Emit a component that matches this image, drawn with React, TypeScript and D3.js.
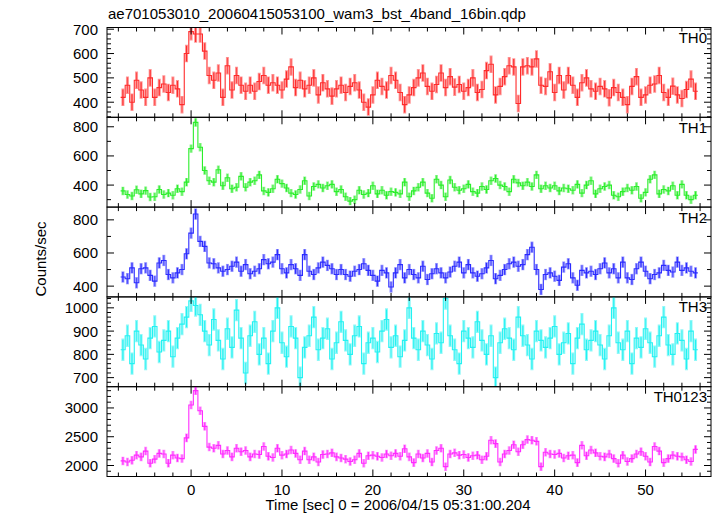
import React from "react";
import * as d3 from "d3";

const TITLE = "ae701053010_20060415053100_wam3_bst_4band_16bin.qdp";
const X_LABEL = "Time [sec] 0 = 2006/04/15 05:31:00.204";
const Y_LABEL = "Counts/sec";
const T_START = -7.5;
const BIN = 0.5;
const X_TICKS = [0, 10, 20, 30, 40, 50];

const TH0 = [
  420, 470, 400, 490, 450, 420, 500, 420, 460, 475,
  440, 470, 455, 390, 600, 690, 680, 680, 610, 510,
  490, 520, 420, 550, 450, 510, 470, 445, 470, 445,
  485, 510, 470, 480, 470, 450, 495, 545, 460, 490,
  455, 470, 500, 430, 480, 455, 425, 455, 470, 440,
  465, 480, 450, 400, 380, 430, 490, 465, 450, 510,
  490, 440, 390, 430,
  460, 500, 520, 465, 445, 473, 520, 460, 505, 462,
  473, 445, 460, 500, 440, 452, 530, 556, 430, 465,
  505, 550, 545, 395, 545, 550, 545, 578, 470, 465,
  525, 440, 510, 450, 510, 470, 420, 480, 500, 455,
  445, 465, 455, 418, 460, 440, 420, 390, 465, 505,
  420, 430, 470, 475, 510, 440, 420, 466, 430, 415,
  452, 495, 445,
];

const TH1 = [
  360, 335, 325, 368, 340, 362, 318, 320, 370, 335,
  345, 330, 375, 355, 420, 650, 830, 660, 500, 430,
  420, 505, 395, 450, 375, 385, 460, 385, 420, 430,
  470, 360, 350, 375, 440, 410, 380, 345, 335, 370,
  430, 325, 390, 405, 380, 395, 405, 355, 370, 320,
  290, 300, 365, 335, 345, 395, 340, 365, 330, 355,
  350, 340, 420, 320,
  360, 385, 420, 345, 310, 440, 400, 320, 435, 385,
  365, 375, 405, 355, 345, 390, 370, 430, 445, 400,
  390, 355, 440, 415, 395, 420, 390, 470, 375, 395,
  380, 395, 360, 380, 375, 365, 405, 345, 400, 430,
  340, 375, 390, 400, 330, 320, 355, 380, 365, 390,
  310, 350, 440, 470, 340, 370, 360, 395, 330, 405,
  330, 300, 330,
];

const TH2 = [
  455, 445, 510, 420, 505, 510, 465, 430, 540, 555,
  470, 450, 480, 500, 595, 720, 835, 670, 640, 540,
  535, 510, 490, 500, 520, 545, 490, 530, 475, 490,
  505, 560, 535, 545, 590, 505, 480, 530, 505, 465,
  590, 490, 470, 510, 545, 525, 505, 470, 500, 470,
  460, 490, 500, 535, 495, 465, 430, 495, 480, 395,
  480, 530, 450, 500,
  470, 450, 520, 440, 475, 505, 480, 450, 485, 520,
  545, 480, 530, 480, 460, 475, 510, 555, 445, 465,
  500, 535, 545, 520, 530, 590, 635, 500, 380, 470,
  480, 460, 435, 515, 535, 450, 405, 495, 480, 490,
  470, 505, 540, 480, 505, 450, 545, 450, 440, 505,
  545, 490, 445, 470, 480, 525, 495, 485, 545, 495,
  510, 490, 480,
];

const TH3 = [
  820, 880, 760, 900, 840, 780, 870, 920, 810, 860,
  900, 790, 870, 930, 960, 1030, 1010, 970, 900, 840,
  950, 860, 780, 910, 830, 990, 870, 720, 880, 940,
  800, 870, 760, 900, 1000, 850, 790, 920, 870, 700,
  830, 880, 960, 820, 870, 910, 780, 850, 940, 860,
  800, 880, 920, 760, 850, 870, 810, 900, 950, 830,
  880, 790, 860, 1000, 870, 820, 900, 840, 780, 890,
  850, 1040, 880, 820, 760, 900, 870, 830, 940, 860,
  800, 880, 700, 850, 910, 870, 820, 960, 880, 840,
  780, 900, 860, 830, 870, 920, 800, 850, 890, 760,
  870, 930, 820, 860, 900, 840, 780, 880, 1000, 850,
  820, 900, 760, 870, 830, 910, 850, 790, 880, 960,
  840, 800, 890, 860, 780, 900, 820,
];

const TH0123 = [
  2080, 2060, 2090, 2180, 2150, 2250, 2040, 2110, 2210, 2200,
  2040, 2180, 2130, 2120, 2480, 3050, 3300, 2950, 2680, 2320,
  2300, 2350, 2200, 2260, 2150, 2300, 2240, 2260, 2150, 2200,
  2190, 2330, 2160, 2140, 2300, 2180, 2200, 2270, 2210, 2100,
  2250, 2100, 2150, 2060, 2190, 2200, 2220, 2150, 2130, 2110,
  2070, 2100, 2210, 2040, 2170, 2180, 2160, 2140, 2200, 2170,
  2210, 2160, 2290, 2150,
  2050, 2200, 2130, 2210, 2060, 2260, 2300, 1980, 2200, 2220,
  2180, 2190, 2140, 2170, 2180, 2100, 2160, 2440, 2380, 2060,
  2200, 2260, 2360, 2240, 2360, 2450, 2440, 2420, 1980, 2230,
  2200, 2190, 2210, 2130, 2170, 2180, 2050, 2350, 2170, 2270,
  2220, 2160, 2150, 2200, 2120, 2040, 2180, 2070, 2120, 2200,
  2240, 2160, 2060, 2330, 2250, 2050, 2120, 2180, 2160, 2150,
  2100, 2070, 2280,
];

const PANEL_NAMES = ["TH0", "TH1", "TH2", "TH3", "TH0123"];
const PANEL_ERRORS = [36, 29, 34, 48, 74];
const PANEL_COLORS = ["#ff2b2b", "#2bee2b", "#2b2bff", "#22f2f2", "#ff2bff"];
const PANEL_DOMAINS: [number, number][] = [
  [338, 707],
  [249, 865],
  [335, 877],
  [661, 1047],
  [1809, 3369],
];
const PANEL_LABEL_TICKS = [
  [400, 500, 600, 700],
  [400, 600, 800],
  [400, 600, 800],
  [700, 800, 900, 1000],
  [2000, 2500, 3000],
];
const PANEL_MINOR_STEP = [20, 100, 100, 20, 100];
const SERIES = [TH0, TH1, TH2, TH3, TH0123];

const W = 717;
const H = 516;
const LEFT = 107;
const RIGHT = 711;
const TOP = 27.5;
const PH = 89.8;
const FONT = "'Liberation Sans', Arial, Helvetica, sans-serif";

export default function App() {
  const x = d3.scaleLinear().domain([-9.25, 57.2]).range([LEFT, RIGHT]);
  const minorX = d3.range(-8, 57, 2);

  const panels = SERIES.map((vals, p) => {
    const top = TOP + p * PH;
    const bottom = top + PH;
    const y = d3.scaleLinear().domain(PANEL_DOMAINS[p]).range([bottom, top]);
    const color = PANEL_COLORS[p];
    const err = PANEL_ERRORS[p];
    const pts: [number, number][] = [];
    vals.forEach((v, i) => {
      const t = T_START + i * BIN;
      pts.push([x(t - BIN / 2), y(v)]);
      pts.push([x(t + BIN / 2), y(v)]);
    });
    const line = d3.line();
    const [d0, d1] = PANEL_DOMAINS[p];
    const step = PANEL_MINOR_STEP[p];
    const minorY = d3.range(Math.ceil(d0 / step) * step, d1, step);
    const labelTicks = PANEL_LABEL_TICKS[p];
    const clipId = `clip${p}`;
    return (
      <g key={p}>
        <clipPath id={clipId}>
          <rect x={LEFT} y={top} width={RIGHT - LEFT} height={PH} />
        </clipPath>
        <g clipPath={`url(#${clipId})`}>
          {vals.map((v, i) => {
            const cx = x(T_START + i * BIN);
            return (
              <g key={i}>
                <line x1={cx} x2={cx} y1={y(v - err)} y2={y(v + err)} stroke={color} strokeOpacity={0.5} strokeWidth={3} />
                <line x1={cx} x2={cx} y1={y(v - err * 0.9)} y2={y(v + err * 0.9)} stroke={color} strokeWidth={i % 2 === 0 ? 1.1 : 0.7} />
              </g>
            );
          })}
          <path d={line(pts) || ""} fill="none" stroke={color} strokeWidth={1.1} />
        </g>
        <rect x={LEFT} y={top} width={RIGHT - LEFT} height={PH} fill="none" stroke="#000" strokeWidth={1} />
        {minorX.map((t) => {
          const major = t % 10 === 0;
          const len = major ? 7 : 4;
          return (
            <g key={`xt${t}`}>
              <line x1={x(t)} x2={x(t)} y1={top} y2={top + len} stroke="#000" strokeWidth={1} />
              <line x1={x(t)} x2={x(t)} y1={bottom} y2={bottom - len} stroke="#000" strokeWidth={1} />
            </g>
          );
        })}
        {minorY.map((v) => {
          const major = labelTicks.includes(v);
          const len = major ? 7 : 4;
          return (
            <g key={`yt${v}`}>
              <line x1={LEFT} x2={LEFT + len} y1={y(v)} y2={y(v)} stroke="#000" strokeWidth={1} />
              <line x1={RIGHT} x2={RIGHT - len} y1={y(v)} y2={y(v)} stroke="#000" strokeWidth={1} />
            </g>
          );
        })}
        {labelTicks.map((v) => (
          <text key={`yl${v}`} x={98} y={y(v) + 5.5} textAnchor="end" fontSize={15} fontFamily={FONT} fill="#000">
            {v}
          </text>
        ))}
        <text x={707} y={top + 15.5} textAnchor="end" fontSize={15} fontFamily={FONT} fill="#000">
          {PANEL_NAMES[p]}
        </text>
      </g>
    );
  });

  const bottom = TOP + 5 * PH;

  return (
    <svg width={W} height={H} style={{ position: "absolute", left: 0, top: 0, background: "#fff" }}>
      <rect x={0} y={0} width={W} height={H} fill="#fff" />
      <text x={108} y={18.5} fontSize={15} fontFamily={FONT} fill="#000">
        {TITLE}
      </text>
      {panels}
      {X_TICKS.map((t) => (
        <text key={t} x={x(t)} y={bottom + 18} textAnchor="middle" fontSize={15} fontFamily={FONT} fill="#000">
          {t}
        </text>
      ))}
      <text x={398} y={510} textAnchor="middle" fontSize={15} fontFamily={FONT} fill="#000">
        {X_LABEL}
      </text>
      <text transform={`translate(46,259) rotate(-90)`} textAnchor="middle" fontSize={15} fontFamily={FONT} fill="#000">
        {Y_LABEL}
      </text>
    </svg>
  );
}
